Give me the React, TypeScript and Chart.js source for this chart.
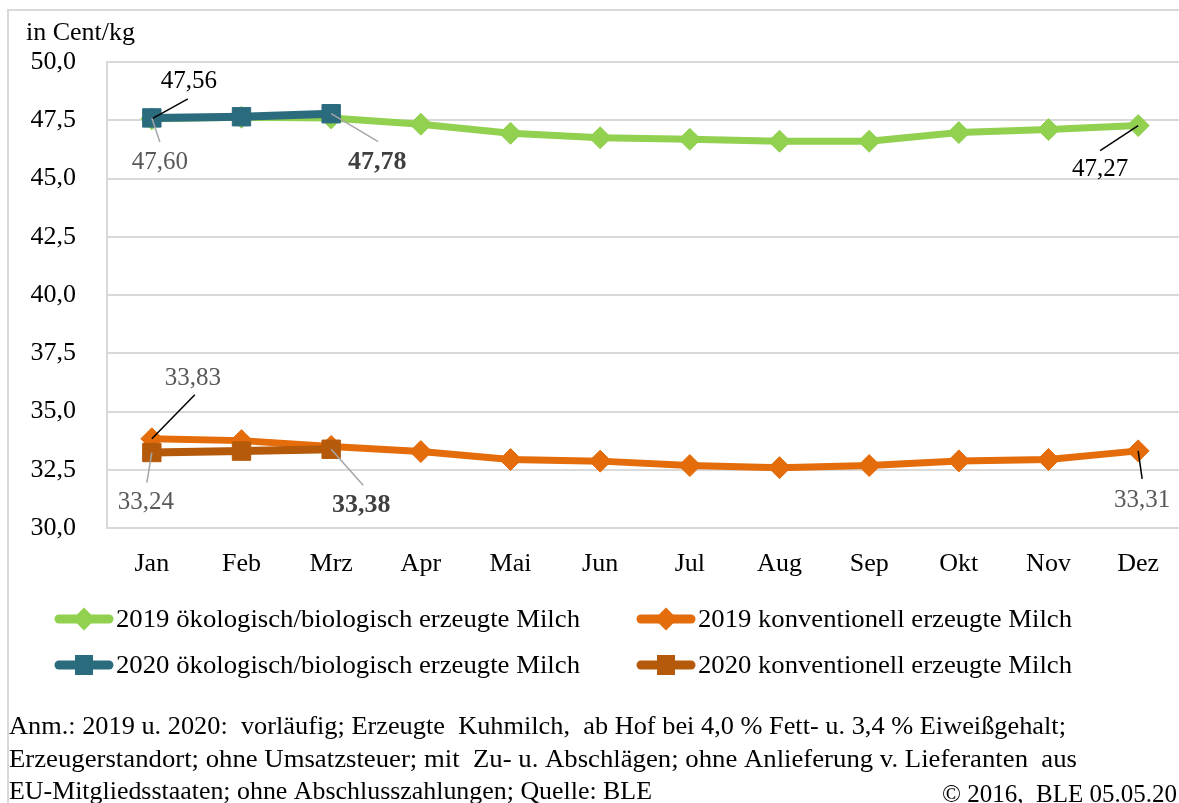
import React, { useEffect, useRef } from "react";
import { Chart, registerables } from "chart.js";

Chart.register(...registerables);

// ---------- data ----------
const months = ["Jan", "Feb", "Mrz", "Apr", "Mai", "Jun", "Jul", "Aug", "Sep", "Okt", "Nov", "Dez"];
const oeko2019 = [47.56, 47.63, 47.6, 47.33, 46.94, 46.75, 46.68, 46.6, 46.6, 46.97, 47.1, 47.27];
const oeko2020 = [47.6, 47.65, 47.78];
const konv2019 = [33.83, 33.75, 33.5, 33.28, 32.94, 32.87, 32.68, 32.59, 32.68, 32.88, 32.94, 33.31];
const konv2020 = [33.24, 33.3, 33.38];
const yMin = 30;
const yMax = 50;
const yStep = 2.5;
const seriesNames = [
  "2019 ökologisch/biologisch erzeugte Milch",
  "2019 konventionell erzeugte Milch",
  "2020 ökologisch/biologisch erzeugte Milch",
  "2020 konventionell erzeugte Milch",
];
const unitLabel = "in Cent/kg";
const noteLines = [
  "Anm.: 2019 u. 2020:  vorläufig; Erzeugte  Kuhmilch,  ab Hof bei 4,0 % Fett- u. 3,4 % Eiweißgehalt;",
  "Erzeugerstandort; ohne Umsatzsteuer; mit  Zu- u. Abschlägen; ohne Anlieferung v. Lieferanten  aus",
  "EU-Mitgliedsstaaten; ohne Abschlusszahlungen; Quelle: BLE",
];
const copyright = "© 2016,  BLE 05.05.20";

// ---------- styles ----------
const FONT = '"Liberation Serif", "Times New Roman", serif';
const C_GREEN = "#92D050";
const C_TEAL = "#2B6B7E";
const C_ORANGE = "#E46C0A";
const C_BROWN = "#B55A0A";
const GRID = "#d9d9d9";

const fmt = (v: number, d: number) => v.toFixed(d).replace(".", ",");

// data labels: dataset index, point index, text offset, leader end offset, styles
const labelSpecs = [
  { ds: 0, i: 0, tx: 37, ty: -37, lx: 36, ly: -20, color: "#000000", leader: "#000000", bold: false },
  { ds: 2, i: 0, tx: 8, ty: 45, lx: 8, ly: 24, color: "#595959", leader: "#a6a6a6", bold: false },
  { ds: 2, i: 2, tx: 46, ty: 49, lx: 47, ly: 28, color: "#404040", leader: "#a6a6a6", bold: true },
  { ds: 0, i: 11, tx: -38, ty: 44, lx: -38, ly: 25, color: "#000000", leader: "#000000", bold: false },
  { ds: 1, i: 0, tx: 41, ty: -60, lx: 43, ly: -44, color: "#595959", leader: "#000000", bold: false },
  { ds: 3, i: 0, tx: -6, ty: 50, lx: -5, ly: 30, color: "#595959", leader: "#a6a6a6", bold: false },
  { ds: 3, i: 2, tx: 30, ty: 56, lx: 32, ly: 36, color: "#404040", leader: "#a6a6a6", bold: true },
  { ds: 1, i: 11, tx: 4, ty: 50, lx: 4, ly: 28, color: "#595959", leader: "#000000", bold: false },
];

function drawFitted(ctx: CanvasRenderingContext2D, text: string, x0: number, x1: number, y: number, font: string, color: string) {
  ctx.save();
  ctx.font = font;
  const w = ctx.measureText(text).width;
  const sx = (x1 - x0) / w;
  ctx.translate(x0, y);
  ctx.scale(sx, 1);
  ctx.textAlign = "left";
  ctx.textBaseline = "middle";
  ctx.fillStyle = color;
  ctx.fillText(text, 0, 0);
  ctx.restore();
}

const framePlugin = {
  id: "frame",
  beforeDraw(chart: any) {
    const ctx = chart.ctx as CanvasRenderingContext2D;
    ctx.save();
    ctx.fillStyle = "#ffffff";
    ctx.fillRect(0, 0, chart.width, chart.height);
    ctx.strokeStyle = GRID;
    ctx.lineWidth = 2;
    ctx.strokeRect(8, 10, chart.width + 100, chart.height + 100);
    ctx.fillStyle = "#000";
    ctx.font = `26px ${FONT}`;
    ctx.textAlign = "left";
    ctx.textBaseline = "middle";
    ctx.fillText(unitLabel, 26, 33);
    ctx.restore();
  },
};

const labelPlugin = {
  id: "dlabels",
  afterDatasetsDraw(chart: any) {
    const ctx = chart.ctx as CanvasRenderingContext2D;
    ctx.save();
    labelSpecs.forEach((s) => {
      const meta = chart.getDatasetMeta(s.ds);
      const pt = meta.data[s.i];
      if (!pt) return;
      const v = chart.data.datasets[s.ds].data[s.i] as number;
      const x = pt.x;
      const y = pt.y;
      ctx.strokeStyle = s.leader;
      ctx.lineWidth = 1.5;
      ctx.beginPath();
      ctx.moveTo(x, y);
      ctx.lineTo(x + s.lx, y + s.ly);
      ctx.stroke();
      ctx.fillStyle = s.color;
      ctx.font = `${s.bold ? "bold " : ""}${s.bold ? 26 : 25}px ${FONT}`;
      ctx.textAlign = "center";
      ctx.textBaseline = "middle";
      ctx.fillText(fmt(v, 2), x + s.tx, y + s.ty);
    });
    ctx.restore();
  },
};

const legendItems = [
  { text: seriesNames[0], color: C_GREEN, style: "diamond", col: 0, row: 0, end: 580 },
  { text: seriesNames[1], color: C_ORANGE, style: "diamond", col: 1, row: 0, end: 1072 },
  { text: seriesNames[2], color: C_TEAL, style: "square", col: 0, row: 1, end: 580 },
  { text: seriesNames[3], color: C_BROWN, style: "square", col: 1, row: 1, end: 1072 },
];

const legendPlugin = {
  id: "customLegend",
  afterDraw(chart: any) {
    const ctx = chart.ctx as CanvasRenderingContext2D;
    const colX = [55, 637];
    const rowY = [619, 665];
    ctx.save();
    legendItems.forEach((it) => {
      const x = colX[it.col];
      const y = rowY[it.row];
      ctx.strokeStyle = it.color;
      ctx.lineCap = "round";
      ctx.lineWidth = 9;
      ctx.beginPath();
      ctx.moveTo(x + 4, y);
      ctx.lineTo(x + 54, y);
      ctx.stroke();
      ctx.fillStyle = it.color;
      const cx = x + 29;
      ctx.beginPath();
      if (it.style === "diamond") {
        ctx.moveTo(cx, y - 11.5);
        ctx.lineTo(cx + 11.5, y);
        ctx.lineTo(cx, y + 11.5);
        ctx.lineTo(cx - 11.5, y);
        ctx.closePath();
      } else {
        ctx.rect(cx - 9, y - 10, 18, 20);
      }
      ctx.fill();
      drawFitted(ctx, it.text, x + 61, it.end, y + 1, `26px ${FONT}`, "#000");
    });
    // notes
    const noteY = [727, 760, 792];
    const noteEnd = [1066, 1077, 652];
    noteLines.forEach((t, k) => {
      drawFitted(ctx, t, 9, noteEnd[k], noteY[k], `25px ${FONT}`, "#000");
    });
    drawFitted(ctx, copyright, 942, 1177, 795, `25px ${FONT}`, "#000");
    ctx.restore();
  },
};

export default function App() {
  const ref = useRef<HTMLCanvasElement | null>(null);

  useEffect(() => {
    const canvas = ref.current;
    if (!canvas) return;
    const chart = new Chart(canvas, {
      type: "line",
      data: {
        labels: months,
        datasets: [
          {
            label: seriesNames[0],
            data: oeko2019,
            borderColor: C_GREEN,
            backgroundColor: C_GREEN,
            borderWidth: 7,
            pointStyle: "rectRot",
            pointRadius: 11,
            pointBorderWidth: 1,
            tension: 0,
            order: 2,
          },
          {
            label: seriesNames[1],
            data: konv2019,
            borderColor: C_ORANGE,
            backgroundColor: C_ORANGE,
            borderWidth: 7,
            pointStyle: "rectRot",
            pointRadius: 11,
            pointBorderWidth: 1,
            tension: 0,
            order: 2,
          },
          {
            label: seriesNames[2],
            data: oeko2020,
            borderColor: C_TEAL,
            backgroundColor: C_TEAL,
            borderWidth: 8,
            pointStyle: "rect",
            pointRadius: 13,
            pointBorderWidth: 1,
            tension: 0,
            order: 1,
          },
          {
            label: seriesNames[3],
            data: konv2020,
            borderColor: C_BROWN,
            backgroundColor: C_BROWN,
            borderWidth: 8,
            pointStyle: "rect",
            pointRadius: 13,
            pointBorderWidth: 1,
            tension: 0,
            order: 1,
          },
        ],
      },
      options: {
        animation: false,
        responsive: false,
        devicePixelRatio: 1,
        layout: { padding: { top: 62, left: 0, right: 17, bottom: 0 } },
        plugins: {
          legend: { display: false },
          tooltip: { enabled: false },
          title: { display: false },
        },
        scales: {
          x: {
            type: "category",
            offset: true,
            grid: { display: false, drawTicks: false },
            border: { display: true, color: GRID, width: 2 },
            ticks: {
              color: "#000",
              font: { family: FONT, size: 26 },
              padding: 21,
              maxRotation: 0,
              autoSkip: false,
            },
            afterFit: (scale: any) => {
              scale.height = 275;
            },
          },
          y: {
            min: yMin,
            max: yMax,
            grid: { color: GRID, lineWidth: 2, drawTicks: false },
            border: { display: true, color: GRID, width: 2 },
            ticks: {
              stepSize: yStep,
              color: "#000",
              font: { family: FONT, size: 26 },
              padding: 31,
              callback: (v: any) => fmt(Number(v), 1),
            },
            afterFit: (scale: any) => {
              scale.width = 107;
            },
          },
        },
      },
      plugins: [framePlugin, labelPlugin, legendPlugin],
    } as any);
    return () => chart.destroy();
  }, []);

  return (
    <div
      style={{
        position: "fixed",
        left: 0,
        top: 0,
        width: 1179,
        height: 803,
        overflow: "hidden",
        background: "#fff",
      }}
    >
      <canvas ref={ref} width={1200} height={803} style={{ width: 1200, height: 803, display: "block" }} />
    </div>
  );
}
